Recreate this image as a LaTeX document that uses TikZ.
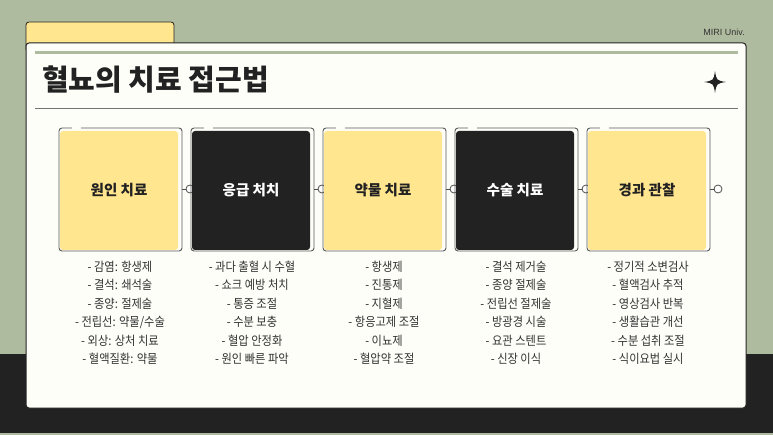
\documentclass[tikz,border=0pt]{standalone}
\usepackage{fontspec}
\newfontfamily\krblack{Noto Sans CJK KR Black}
\newfontfamily\krreg[FakeStretch=0.9]{Noto Sans CJK KR}
\newfontfamily\latsans{Liberation Sans}
\definecolor{sage}{HTML}{AFBB9E}
\definecolor{ylw}{HTML}{FFE68F}
\definecolor{dk}{HTML}{222222}
\definecolor{card}{HTML}{FEFEF9}
\definecolor{txt}{HTML}{333333}
\tikzset{
  fillbox/.style={rounded corners=3pt, minimum width=118pt, minimum height=119pt, inner sep=0pt, font=\krblack\fontsize{14.5}{16}\selectfont},
  ybox/.style={fillbox, fill=ylw, text=dk},
  dbox/.style={fillbox, fill=dk, text=white},
  framebox/.style={draw=black!65, line width=0.9pt, rounded corners=3pt, minimum width=123pt, minimum height=123pt, inner sep=0pt},
  dot/.style={circle, draw=black!70, fill=white, line width=0.8pt, minimum size=8pt, inner sep=0pt},
  conn/.style={draw=black!70, line width=0.9pt},
  item/.style={font=\krreg\fontsize{12.5}{14}\selectfont, text=txt, inner sep=0pt}
}
\begin{document}
\begin{tikzpicture}[x=1pt,y=-1pt]
\useasboundingbox (0,0) rectangle (773,435);
\fill[sage] (0,0) rectangle (773,435);
\fill[dk] (0,354) rectangle (773,433);
% tab
\draw[fill=ylw, draw=dk, line width=0.8pt, rounded corners=3pt] (26,50) -- (26,22) -- (174,22) -- (174,50);
% card
\draw[fill=card, draw=dk, line width=1pt, rounded corners=3pt] (26,43) rectangle (746,408);
\draw[sage, line width=3pt] (35,53) -- (738,53);
\draw[black!55, line width=0.8pt] (35,108) -- (738,108);
\node[anchor=west, inner sep=0pt, text=dk, font=\krblack\fontsize{29}{32}\selectfont] (title) at (42,80) {혈뇨의 치료 접근법};
\node[anchor=east, inner sep=0pt, text=txt, font=\latsans\fontsize{9}{10}\selectfont] (univ) at (745,32) {MIRI Univ.};
% star
\fill[dk] (715,71) .. controls (716.5,80.5) .. (726,82) .. controls (716.5,83.5) .. (715,93) .. controls (713.5,83.5) .. (704,82) .. controls (713.5,80.5) .. (715,71) -- cycle;
% boxes
\foreach \i/\sty/\lab in {0/ybox/원인 치료, 1/dbox/응급 처치, 2/ybox/약물 치료, 3/dbox/수술 치료, 4/ybox/경과 관찰}{
  \pgfmathsetmacro{\L}{59+132*\i}
  \node[framebox] (f\i) at (\L+61.5,189.5) {};
  \draw[card, line width=2pt] (\L+13,128) -- (\L+22,128);
  \node[\sty] (b\i) at (\L+60,190.5) {\lab};
  \node[dot] (c\i) at (\L+131,189) {};
  \draw[conn] (f\i.east |- c\i) -- (c\i.west);
}
\foreach \i/\a/\b/\c/\d/\e/\f in {
 0/- 감염: 항생제/- 결석: 쇄석술/- 종양: 절제술/- 전립선: 약물\slash 수술/- 외상: 상처 치료/- 혈액질환: 약물,
 1/- 과다 출혈 시 수혈/- 쇼크 예방 처치/- 통증 조절/- 수분 보충/- 혈압 안정화/- 원인 빠른 파악,
 2/- 항생제/- 진통제/- 지혈제/- 항응고제 조절/- 이뇨제/- 혈압약 조절,
 3/- 결석 제거술/- 종양 절제술/- 전립선 절제술/- 방광경 시술/- 요관 스텐트/- 신장 이식,
 4/- 정기적 소변검사/- 혈액검사 추적/- 영상검사 반복/- 생활습관 개선/- 수분 섭취 조절/- 식이요법 실시}{
  \pgfmathsetmacro{\X}{59+132*\i+61}
  \node[item] (t\i a) at (\X,266.5) {\a};
  \node[item] (t\i b) at (\X,285) {\b};
  \node[item] (t\i c) at (\X,303.5) {\c};
  \node[item] (t\i d) at (\X,322) {\d};
  \node[item] (t\i e) at (\X,340.5) {\e};
  \node[item] (t\i f) at (\X,359) {\f};
}
\end{tikzpicture}
\end{document}
